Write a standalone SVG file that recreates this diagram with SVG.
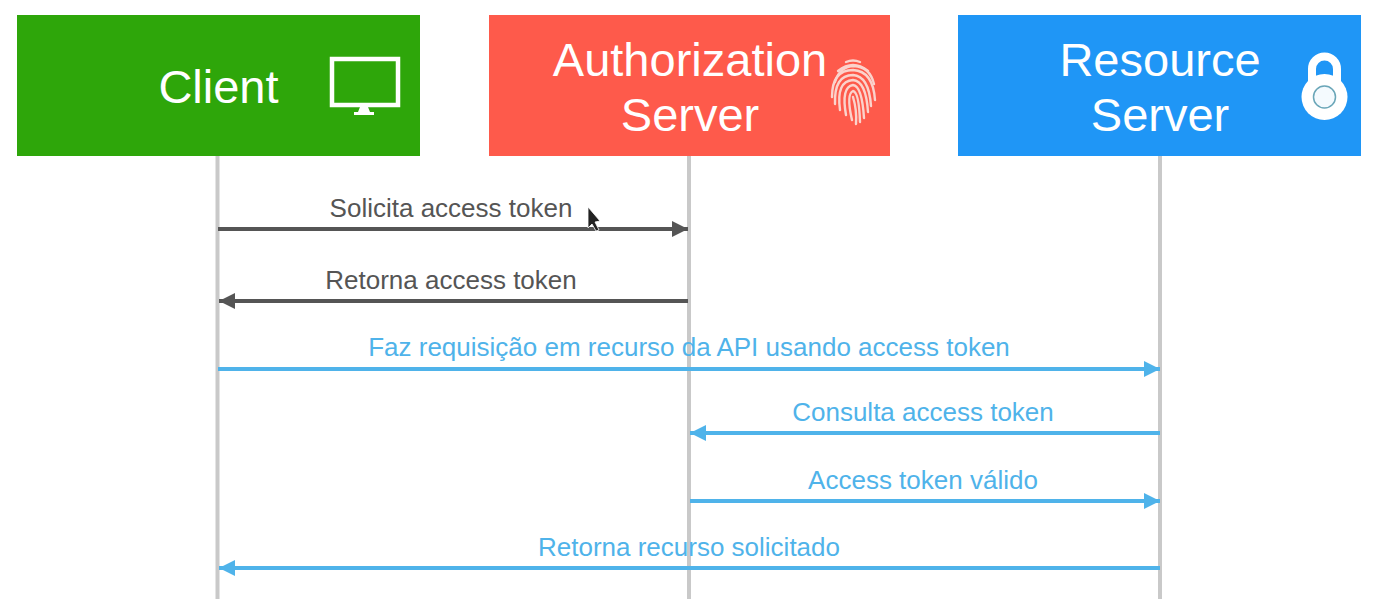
<svg xmlns="http://www.w3.org/2000/svg" width="1385" height="599" viewBox="0 0 1385 599">
<style>
text{font-family:"Liberation Sans",Arial,sans-serif;text-anchor:middle}
.h{font-size:47px;fill:#fff}
.m{font-size:26px}
.g{fill:#555}
.b{fill:#4fb3ea}
.life{stroke:#c9c9c9;stroke-width:4;fill:none}
.cg{stroke:#555;stroke-width:4;fill:none}
.cb{stroke:#4fb3ea;stroke-width:4;fill:none}
.fp{fill:none;stroke:#fbd3cc;stroke-width:2.4;stroke-linecap:round}
</style>
<defs>
<marker id="ag" markerUnits="userSpaceOnUse" markerWidth="20" markerHeight="18" refX="16" refY="8" orient="auto-start-reverse"><path d="M0 0L16 8L0 16Z" fill="#555"/></marker>
<marker id="ab" markerUnits="userSpaceOnUse" markerWidth="20" markerHeight="18" refX="16" refY="8" orient="auto-start-reverse"><path d="M0 0L16 8L0 16Z" fill="#4fb3ea"/></marker>
</defs>
<rect width="1385" height="599" fill="#fff"/>
<g id="lifelines">
<line class="life" x1="217.500" y1="155" x2="217.500" y2="599"/>
<line class="life" x1="689" y1="155" x2="689" y2="599"/>
<line class="life" x1="1160" y1="155" x2="1160" y2="599"/>
</g>
<g id="client">
<rect x="17" y="15" width="403" height="141" fill="#2ea60a"/>
<text class="h" x="218.500" y="103">Client</text>
<rect x="332" y="59" width="66" height="46" fill="none" stroke="#fff" stroke-width="4.500"/>
<path d="M360 107H368L370 112H374V115H354V112H358Z" fill="#fff"/>
</g>
<g id="authorization-server">
<rect x="489" y="15" width="401" height="141" fill="#fe5a4b"/>
<text class="h" x="690" y="76">Authorization</text>
<text class="h" x="690" y="131">Server</text>
<g class="fp">
<path d="M846 62Q853 59 860 62"/>
<path d="M838 71Q853 59 868 71"/>
<path d="M835 82Q840 66 854 66Q870 67 874 84"/>
<path d="M832 97Q832 70 853 70Q873 71 875 100"/>
<path d="M835 104Q834 75 853 75Q869 76 871 106"/>
<path d="M840 110Q836 81 853 80Q866 81 868 112"/>
<path d="M846 115Q841 87 853 85Q862 86 864 118"/>
<path d="M852 120Q846 94 853 91Q859 92 860 122"/>
<path d="M853 97Q857 110 856 124"/>
</g>
</g>
<g id="resource-server">
<rect x="958" y="15" width="403" height="141" fill="#1f96f6"/>
<text class="h" x="1160" y="76">Resource</text>
<text class="h" x="1160" y="131">Server</text>
<path d="M1312 86V69a12.500 12.500 0 0 1 25 0V86" fill="none" stroke="#fff" stroke-width="8"/>
<circle cx="1324.500" cy="97" r="23" fill="#fff"/>
<circle cx="1324.500" cy="97" r="11" fill="#f4fafe" stroke="#6aa6b8" stroke-width="1.500"/>
</g>
<g id="connectors">
<line class="cg" x1="218" y1="229" x2="688" y2="229" marker-end="url(#ag)"/>
<line class="cg" x1="688" y1="301" x2="219" y2="301" marker-end="url(#ag)"/>
<line class="cb" x1="218" y1="369" x2="1160" y2="369" marker-end="url(#ab)"/>
<line class="cb" x1="1160" y1="433" x2="690" y2="433" marker-end="url(#ab)"/>
<line class="cb" x1="690" y1="501" x2="1160" y2="501" marker-end="url(#ab)"/>
<line class="cb" x1="1160" y1="568" x2="219" y2="568" marker-end="url(#ab)"/>
</g>
<g id="labels">
<text class="m g" x="451" y="217">Solicita access token</text>
<text class="m g" x="451" y="289">Retorna access token</text>
<text class="m b" x="689" y="356">Faz requisição em recurso da API usando access token</text>
<text class="m b" x="923" y="421">Consulta access token</text>
<text class="m b" x="923" y="489">Access token válido</text>
<text class="m b" x="689" y="556">Retorna recurso solicitado</text>
</g>
<path id="cursor" d="M588 207L600 221L595 222L599 230L596 231L592 224L588 228Z" fill="#222" stroke="#fff" stroke-width="0.800"/>
</svg>
